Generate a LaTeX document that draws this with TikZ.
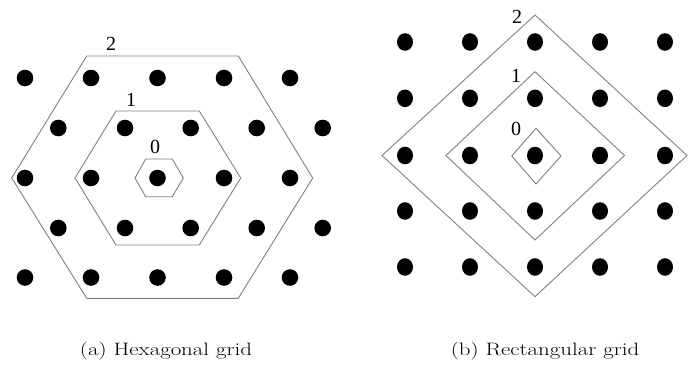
\documentclass[tikz,border=0pt]{standalone}
\usepackage{fontspec}
\newfontfamily\labfont{Liberation Serif}
\begin{document}
\begin{tikzpicture}[x=1pt,y=-1pt,
  ring/.style={draw=black!50, line width=0.9pt, line join=miter},
  lab/.style={inner sep=0pt, font=\labfont\fontsize{20}{22}\selectfont},
  captext/.style={inner sep=0pt, anchor=base}]
\useasboundingbox (0,0) rectangle (688,369);
% ---- hexagonal grid dots
\foreach \r/\y in {0/78,2/178,4/277.5}{
  \foreach \x in {25,91,157.5,224,290}{\fill (\x,\y) circle (8.3);}}
\foreach \r/\y in {1/128,3/228}{
  \foreach \x in {58.3,125,190.7,256.7,322.7}{\fill (\x,\y) circle (8.3);}}
% hexagons
\draw[ring] (86.7,56) -- (238.3,56) -- (312.7,178) -- (238.3,298.3) -- (86.7,298.3) -- (11.7,178) -- cycle;
\draw[ring] (116,111) -- (199.3,111) -- (240.7,178) -- (199.3,245) -- (116,245) -- (75,178) -- cycle;
\draw[ring] (145.7,159) -- (172.3,159) -- (183.3,178) -- (172.3,196.7) -- (145.7,196.7) -- (135,178) -- cycle;
\node[lab] (h2) at (111,44) {2};
\node[lab] (h1) at (131,100) {1};
\node[lab] (h0) at (155,146.5) {0};
% ---- rectangular grid dots
\foreach \y in {42,98.3,155.5,211,267}{
  \foreach \x in {405,470,535,600,665}{\fill (\x,\y) ellipse (8 and 8.8);}}
% diamonds
\draw[ring] (535,15) -- (687,155.5) -- (535,296.7) -- (382,155.5) -- cycle;
\draw[ring] (535,71.7) -- (624.5,155.5) -- (535,240) -- (446,155.5) -- cycle;
\draw[ring] (536,128.3) -- (561,156) -- (536,184) -- (511.7,156) -- cycle;
\node[lab] (r2) at (517,17) {2};
\node[lab] (r1) at (516,76) {1};
\node[lab] (r0) at (516,129) {0};
% captions
\node[captext] (ca) at (166,355.5) {\scalebox{1.27}[1]{\fontsize{18}{20}\selectfont (a) Hexagonal grid}};
\node[captext] (cb) at (545,355.5) {\scalebox{1.27}[1]{\fontsize{18}{20}\selectfont (b) Rectangular grid}};
\end{tikzpicture}
\end{document}
